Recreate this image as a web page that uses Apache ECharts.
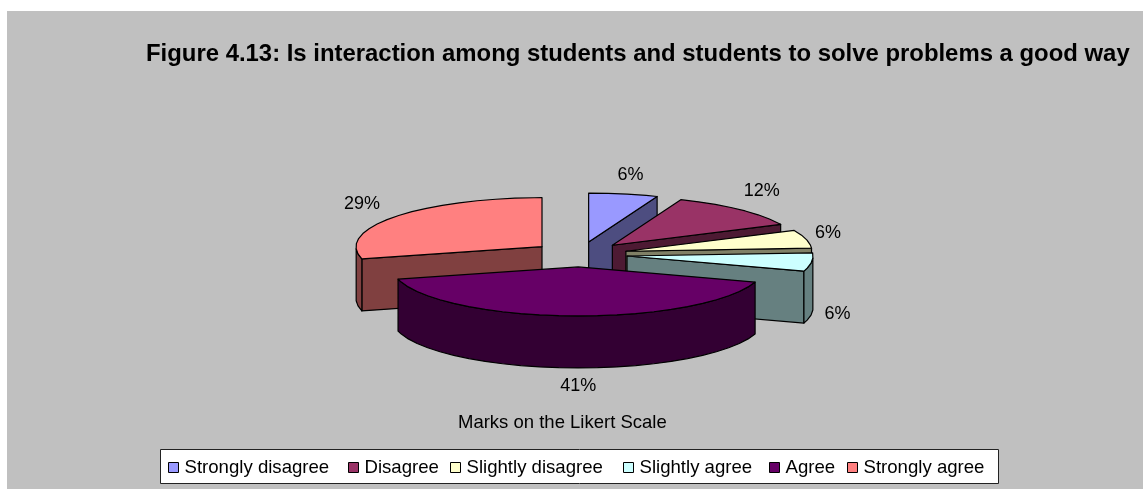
<!DOCTYPE html>
<html>
<head>
<meta charset="utf-8">
<style>html,body{margin:0;padding:0;background:#fff}#chart{width:1143px;height:489px}</style>
<script src="https://cdn.jsdelivr.net/npm/echarts@6/dist/echarts.min.js"></script>
</head>
<body>
<div id="chart"></div>
<script>
// Likert responses, in percent, clockwise from twelve o'clock
const categories = ['Strongly disagree', 'Disagree', 'Slightly disagree', 'Slightly agree', 'Agree', 'Strongly agree'];
const shares = [6, 12, 6, 6, 41, 29];
const topColors = ['#9999FF', '#993366', '#FFFFCC', '#CCFFFF', '#660066', '#FF8080'];
const sideColors = ['#4D4D80', '#4D1A33', '#808066', '#668080', '#330033', '#804040'];

// Painter's order for the exploded slices, furthest first
const paintOrder = [5, 0, 1, 2, 3, 4];

// Pie projection
const pie = { cx: 579.7, cy: 254.4, rx: 186, ry: 49, depth: 52, explode: 47.7, step: 6 };
// Percent labels, nudged away from the slice rim
const labelNudge = [[7, -19], [22, -18], [22, -6], [26, 0], [6, 18], [-33, -13]];
// Left edge of each legend entry
const legendLefts = [168, 348, 450, 623, 769, 847];

const total = shares.reduce((a, b) => a + b, 0);
const startAngles = shares.map((_, i) => shares.slice(0, i).reduce((a, b) => a + b, 0) / total * 360);
const rad = d => d * Math.PI / 180;

function renderSlice(index) {
  return function (params, api) {
    const value = api.value(0);
    const a0 = startAngles[index];
    const a1 = a0 + value / total * 360;
    const mid = rad((a0 + a1) / 2);
    const ox = pie.cx + pie.explode * Math.sin(mid);
    const oy = pie.cy - pie.explode * (pie.ry / pie.rx) * Math.cos(mid);
    const rim = d => [ox + pie.rx * Math.sin(rad(d)), oy - pie.ry * Math.cos(rad(d))];
    const drop = p => [p[0], p[1] + pie.depth];
    const face = (points, fill) => ({
      type: 'polygon',
      shape: { points },
      style: { fill, stroke: '#000', lineWidth: 1.2, lineJoin: 'round' }
    });

    const angles = [];
    for (let d = a0; d < a1; d += pie.step) angles.push(d);
    angles.push(a1);

    const children = [];
    const apex = [ox, oy];
    const side = sideColors[index];
    // Straight cut walls: only the ones turned towards the viewer show
    if (Math.sin(rad(a0)) < -1e-6) children.push(face([apex, rim(a0), drop(rim(a0)), drop(apex)], side));
    if (Math.sin(rad(a1)) > 1e-6) children.push(face([apex, rim(a1), drop(rim(a1)), drop(apex)], side));
    // Curved outer wall, front half of the ellipse
    const front = angles.filter(d => d >= 90 && d <= 270);
    if (front.length > 1) {
      children.push(face(front.map(rim).concat(front.slice().reverse().map(d => drop(rim(d)))), side));
    }
    // Top surface
    children.push(face([apex].concat(angles.map(rim)), topColors[index]));

    // Percent label
    const midDeg = (a0 + a1) / 2;
    const anchor = rim(midDeg);
    const onFront = Math.cos(rad(midDeg)) < 0;
    children.push({
      type: 'text',
      z2: 10,
      style: {
        text: value + '%',
        x: anchor[0] + labelNudge[index][0],
        y: anchor[1] + (onFront ? pie.depth : 0) + labelNudge[index][1],
        align: 'center',
        verticalAlign: 'middle',
        fontFamily: 'Liberation Sans',
        fontSize: 18,
        fill: '#000'
      }
    });
    return { type: 'group', children };
  };
}

const chart = echarts.init(document.getElementById('chart'), null, { renderer: 'canvas' });
chart.setOption({
  animation: false,
  backgroundColor: '#fff',
  graphic: [
    {
      type: 'rect',
      z: -10,
      shape: { x: 7, y: 11, width: 1136, height: 478 },
      style: { fill: '#C0C0C0' }
    },
    {
      type: 'rect',
      z: -9,
      shape: { x: 160.5, y: 449.5, width: 838, height: 34 },
      style: { fill: '#fff', stroke: '#222', lineWidth: 1 }
    }
  ],
  title: [
    {
      text: 'Figure 4.13: Is interaction among students and students to solve problems a good way',
      left: 146, top: 42, padding: 0,
      textStyle: { fontFamily: 'Liberation Sans', fontWeight: 'bold', fontSize: 23.9, color: '#000' }
    },
    {
      text: 'Marks on the Likert Scale',
      left: 458, top: 413, padding: 0,
      textStyle: { fontFamily: 'Liberation Sans', fontWeight: 'normal', fontSize: 18.5, color: '#000' }
    }
  ],
  legend: categories.map((name, i) => ({
    data: [name],
    left: legendLefts[i],
    top: 458,
    padding: 0,
    itemWidth: 10,
    itemHeight: 10,
    icon: 'rect',
    itemStyle: { borderColor: '#000', borderWidth: 1 },
    selectedMode: false,
    textStyle: { fontFamily: 'Liberation Sans', fontSize: 18.6, color: '#000', padding: [0, 0, 0, 1] }
  })),
  series: paintOrder.map(i => ({
    type: 'custom',
    name: categories[i],
    coordinateSystem: 'none',
    itemStyle: { color: topColors[i] },
    renderItem: renderSlice(i),
    data: [[shares[i]]],
    silent: true
  }))
});
</script>
</body>
</html>
